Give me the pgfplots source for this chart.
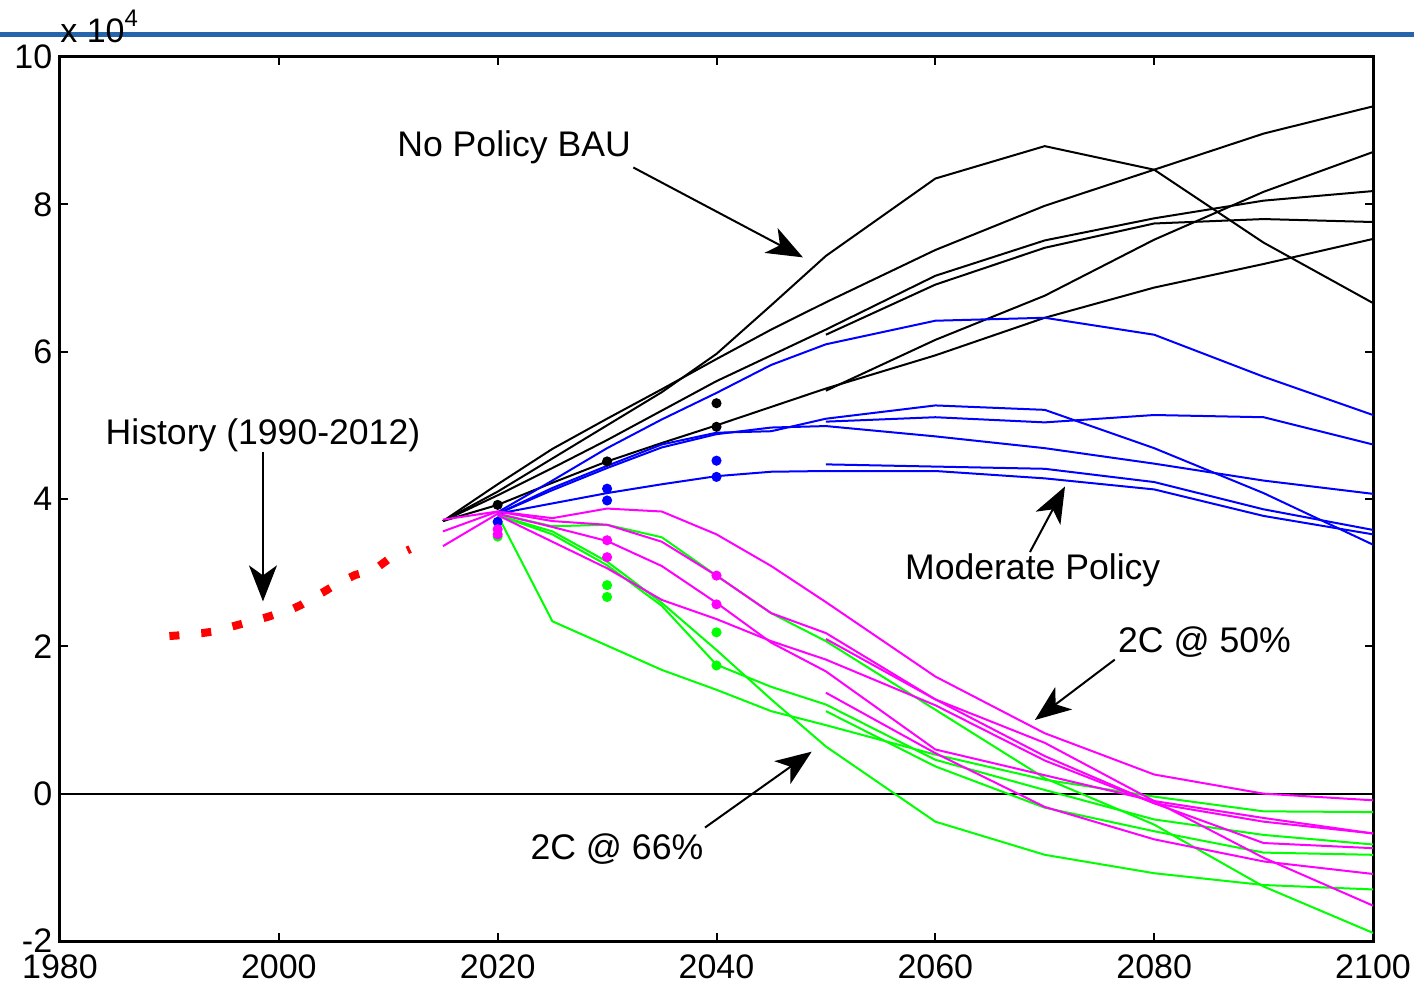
\documentclass[border=0pt]{standalone}
\usepackage{pgfplots}
\pgfplotsset{compat=1.18}
\usepackage{fontspec}
\setmainfont{Liberation Sans}
\usetikzlibrary{arrows.meta}
\definecolor{topblue}{RGB}{38,101,171}
\definecolor{mgreen}{RGB}{0,255,0}
\definecolor{mmag}{RGB}{255,0,255}
\definecolor{mblue}{RGB}{0,0,255}
\begin{document}
\begin{tikzpicture}
\path[use as bounding box] (-30bp,-21.5bp) rectangle (677bp,470.5bp);
\draw[topblue, line width=2.5bp] (-30bp,453bp) -- (677bp,453bp);
\begin{axis}[
  at={(0,0)}, anchor=south west,
  scale only axis, width=656.5bp, height=442bp,
  xmin=1980, xmax=2100, ymin=-2, ymax=10,
  xtick={1980,2000,...,2100}, ytick={-2,0,...,10},
  scaled ticks=false,
  x tick label style={/pgf/number format/1000 sep={}, inner sep=1bp, yshift=-5.8bp},
  y tick label style={inner sep=1bp, xshift=-2.7bp},
  /pgf/number format/assume math mode=true,
  tick label style={font=\fontsize{17bp}{20bp}\selectfont},
  axis line style={line width=1.5bp},
  major tick length=4bp,
  every tick/.style={line width=1bp, black},
  every axis plot/.append style={line width=1bp},
]
% history
\addplot[red, line width=4bp, dash pattern=on 5bp off 11bp] coordinates {
(1990,2.14)(1991,2.15)(1992,2.17)(1993,2.18)(1994,2.20)(1995,2.24)(1996,2.28)(1997,2.32)
(1998,2.36)(1999,2.40)(2000,2.45)(2001,2.49)(2002,2.56)(2003,2.65)(2004,2.73)(2005,2.82)
(2006,2.90)(2007,2.97)(2008,3.01)(2009,3.07)(2010,3.18)(2011,3.25)(2012,3.32)};
% zero line
\addplot[black, line width=1bp] coordinates {(1980,0)(2100,0)};
% BAU (black)
\addplot[black] coordinates {(2015,3.70)(2020,4.10)(2025,4.55)(2030,5.00)(2035,5.45)(2040,5.97)(2045,6.63)(2050,7.30)(2060,8.35)(2070,8.79)(2080,8.47)(2090,7.48)(2100,6.66)};
\addplot[black] coordinates {(2015,3.70)(2020,4.20)(2025,4.68)(2030,5.09)(2035,5.49)(2040,5.90)(2045,6.30)(2050,6.67)(2060,7.38)(2070,7.98)(2080,8.47)(2090,8.96)(2100,9.33)};
\addplot[black] coordinates {(2015,3.70)(2020,4.05)(2025,4.42)(2030,4.80)(2035,5.20)(2040,5.60)(2045,5.95)(2050,6.30)(2060,7.03)(2070,7.51)(2080,7.81)(2090,8.05)(2100,8.18)};
\addplot[black] coordinates {(2050,6.23)(2060,6.91)(2070,7.41)(2080,7.74)(2090,7.80)(2100,7.76)};
\addplot[black] coordinates {(2015,3.70)(2020,3.92)(2025,4.22)(2030,4.51)(2035,4.76)(2040,5.00)(2045,5.25)(2050,5.50)(2060,5.95)(2070,6.46)(2080,6.87)(2090,7.19)(2100,7.53)};
\addplot[black] coordinates {(2050,5.47)(2060,6.16)(2070,6.76)(2080,7.52)(2090,8.17)(2100,8.71)};
\addplot[black, only marks, mark=*, mark size=2bp] coordinates {(2020,3.92)(2030,4.51)(2040,5.30)(2040,4.98)};
% Moderate (blue)
\addplot[mblue] coordinates {(2020,3.82)(2025,4.25)(2030,4.69)(2035,5.08)(2040,5.44)(2045,5.82)(2050,6.10)(2060,6.42)(2070,6.46)(2080,6.23)(2090,5.66)(2100,5.14)};
\addplot[mblue] coordinates {(2020,3.80)(2025,4.15)(2030,4.45)(2035,4.74)(2040,4.90)(2045,4.92)(2050,5.09)(2060,5.27)(2070,5.21)(2080,4.69)(2090,4.08)(2100,3.38)};
\addplot[mblue] coordinates {(2020,3.80)(2025,4.12)(2030,4.42)(2035,4.70)(2040,4.88)(2045,4.97)(2050,4.99)(2060,4.85)(2070,4.69)(2080,4.48)(2090,4.25)(2100,4.07)};
\addplot[mblue] coordinates {(2050,5.05)(2060,5.11)(2070,5.04)(2080,5.14)(2090,5.11)(2100,4.74)};
\addplot[mblue] coordinates {(2050,4.47)(2060,4.44)(2070,4.41)(2080,4.23)(2090,3.86)(2100,3.58)};
\addplot[mblue] coordinates {(2020,3.80)(2025,3.94)(2030,4.08)(2035,4.20)(2040,4.31)(2045,4.37)(2050,4.38)(2060,4.38)(2070,4.28)(2080,4.13)(2090,3.77)(2100,3.52)};
\addplot[mblue, only marks, mark=*, mark size=2bp] coordinates {(2020,3.69)(2030,4.14)(2030,3.98)(2040,4.52)(2040,4.30)};
% 2C @ 66% (green)
\addplot[mgreen] coordinates {(2020,3.78)(2025,2.34)(2030,2.01)(2035,1.68)(2040,1.41)(2045,1.12)(2050,0.93)(2060,0.53)(2070,0.19)(2080,-0.04)(2090,-0.24)(2100,-0.25)};
\addplot[mgreen] coordinates {(2020,3.80)(2025,3.63)(2030,3.65)(2035,3.48)(2040,2.96)(2045,2.45)(2050,2.07)(2060,1.14)(2070,0.21)(2080,-0.42)(2090,-1.26)(2100,-1.89)};
\addplot[mgreen] coordinates {(2020,3.78)(2025,3.56)(2030,3.15)(2035,2.59)(2040,1.95)(2045,1.28)(2050,0.64)(2060,-0.38)(2070,-0.83)(2080,-1.08)(2090,-1.24)(2100,-1.30)};
\addplot[mgreen] coordinates {(2020,3.78)(2025,3.52)(2030,3.10)(2035,2.55)(2040,1.75)(2045,1.45)(2050,1.21)(2060,0.46)(2070,0.05)(2080,-0.35)(2090,-0.56)(2100,-0.69)};
\addplot[mgreen] coordinates {(2050,1.12)(2060,0.37)(2070,-0.19)(2080,-0.51)(2090,-0.80)(2100,-0.83)};
\addplot[mgreen, only marks, mark=*, mark size=2bp] coordinates {(2020,3.49)(2030,2.83)(2030,2.67)(2040,2.19)(2040,1.74)};
% 2C @ 50% (magenta)
\addplot[mmag] coordinates {(2015,3.72)(2020,3.83)(2025,3.74)(2030,3.87)(2035,3.83)(2040,3.52)(2045,3.09)(2050,2.60)(2060,1.59)(2070,0.82)(2080,0.26)(2090,0.00)(2100,-0.09)};
\addplot[mmag] coordinates {(2015,3.56)(2020,3.83)(2025,3.70)(2030,3.65)(2035,3.42)(2040,2.96)(2045,2.45)(2050,2.18)(2060,1.28)(2070,0.69)(2080,-0.10)(2090,-0.33)(2100,-0.54)};
\addplot[mmag] coordinates {(2015,3.36)(2020,3.80)(2025,3.62)(2030,3.43)(2035,3.09)(2040,2.59)(2045,2.05)(2050,1.66)(2060,0.60)(2070,0.25)(2080,-0.10)(2090,-0.87)(2100,-1.52)};
\addplot[mmag] coordinates {(2020,3.78)(2025,3.42)(2030,3.06)(2035,2.63)(2040,2.37)(2045,2.07)(2050,1.82)(2060,1.20)(2070,0.45)(2080,-0.13)(2090,-0.67)(2100,-0.74)};
\addplot[mmag] coordinates {(2050,2.10)(2060,1.28)(2070,0.51)(2080,-0.13)(2090,-0.38)(2100,-0.54)};
\addplot[mmag] coordinates {(2050,1.37)(2060,0.55)(2070,-0.18)(2080,-0.62)(2090,-0.92)(2100,-1.09)};
\addplot[mmag, only marks, mark=*, mark size=2bp] coordinates {(2020,3.59)(2020,3.52)(2030,3.44)(2030,3.21)(2040,2.96)(2040,2.57)};
% annotations
\tikzset{ann/.style={font=\fontsize{17.8bp}{21bp}\selectfont, inner sep=0pt},
         arr/.style={line width=1bp, -{Stealth[length=18bp,width=14bp,inset=5bp]}}}
\node[ann] at (axis cs:2021.5,8.77) {No Policy BAU};
\draw[arr] (axis cs:2032.4,8.50) -- (axis cs:2047.9,7.28);
\node[ann] at (axis cs:1998.55,4.87) {History (1990-2012)};
\draw[arr] (axis cs:1998.55,4.64) -- (axis cs:1998.55,2.61);
\node[ann] at (axis cs:2068.9,3.03) {Moderate Policy};
\draw[arr] (axis cs:2068.65,3.28) -- (axis cs:2071.85,4.17);
\node[ann] at (axis cs:2084.6,2.06) {2C @ 50\%};
\draw[arr] (axis cs:2076.4,1.82) -- (axis cs:2069.1,1.00);
\node[ann] at (axis cs:2030.9,-0.75) {2C @ 66\%};
\draw[arr] (axis cs:2038.95,-0.46) -- (axis cs:2048.7,0.57);
\end{axis}
\node[anchor=base west, inner sep=0pt, font=\fontsize{17bp}{20bp}\selectfont] at (0bp,449bp) {x 10\raisebox{8bp}{\fontsize{12bp}{14bp}\selectfont 4}};
\end{tikzpicture}
\end{document}
